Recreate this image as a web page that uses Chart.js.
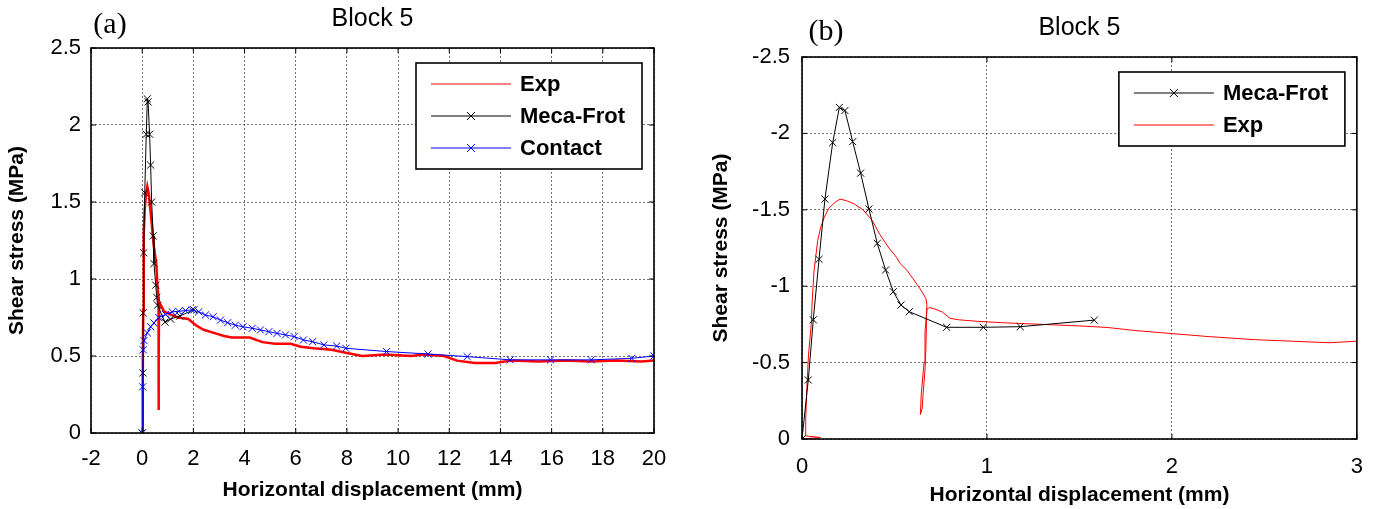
<!DOCTYPE html>
<html>
<head>
<meta charset="utf-8">
<script src="https://cdn.jsdelivr.net/npm/chart.js@4.4.0/dist/chart.umd.min.js"></script>
<style>
  body { margin: 0; background: #fff; width: 1378px; height: 509px; overflow: hidden; position: relative; }
  .panel { position: absolute; top: 0; height: 509px; }
  #boxA { left: 0; width: 690px; }
  #boxB { left: 690px; width: 688px; }
</style>
</head>
<body>
<div class="panel" id="boxA"><canvas id="chartA"></canvas></div>
<div class="panel" id="boxB"><canvas id="chartB"></canvas></div>
<script>
// panel (a) : Block 5, whole test (displacement in mm, shear stress in MPa)
var expAX = [0, 0.02, 0.04, 0.06, 0.1, 0.15, 0.2, 0.26, 0.35, 0.45, 0.55, 0.6, 0.64, 0.64, 0.65, 0.66, 0.7, 0.85, 1.1, 1.4, 1.8, 2.1, 2.4, 2.8, 3.2, 3.5, 4.2, 4.7, 5.2, 5.8, 6.2, 6.7, 7.4, 8.0, 8.6, 9.5, 10.5, 11.0, 11.8, 12.3, 13.0, 13.8, 14.4, 15.5, 16.5, 17.5, 18.5, 19.5, 20];
var expAY = [0, 0.3, 0.8, 1.3, 1.45, 1.55, 1.6, 1.55, 1.4, 1.22, 1.1, 0.95, 0.88, 0.15, 0.5, 0.85, 0.84, 0.79, 0.77, 0.75, 0.74, 0.7, 0.67, 0.65, 0.63, 0.62, 0.62, 0.59, 0.58, 0.58, 0.56, 0.55, 0.54, 0.52, 0.5, 0.51, 0.5, 0.51, 0.5, 0.47, 0.455, 0.455, 0.47, 0.465, 0.47, 0.465, 0.47, 0.465, 0.47];

var mecaAX = [0, 0.03, 0.04, 0.06, 0.1, 0.16, 0.2, 0.23, 0.29, 0.33, 0.37, 0.43, 0.46, 0.53, 0.57, 0.6, 0.89, 1.11, 1.47, 2.02];
var mecaAY = [0, 0.39, 0.78, 1.17, 1.56, 1.94, 2.17, 2.15, 1.94, 1.74, 1.5, 1.28, 1.1, 0.96, 0.88, 0.83, 0.72, 0.74, 0.76, 0.8];

var contactAX = [0, 0.02, 0.04, 0.07, 0.2, 0.33, 0.46, 0.65, 0.91, 1.17, 1.43, 1.69, 1.95, 2.21, 2.47, 2.77, 3.06, 3.34, 3.64, 3.94, 4.3, 4.62, 4.95, 5.27, 5.6, 5.94, 6.3, 6.66, 7.1, 7.6, 7.96, 9.55, 11.17, 12.7, 14.38, 15.96, 17.55, 19.13, 20];
var contactAY = [0, 0.3, 0.54, 0.6, 0.65, 0.69, 0.715, 0.75, 0.77, 0.787, 0.79, 0.795, 0.8, 0.787, 0.766, 0.755, 0.733, 0.716, 0.7, 0.69, 0.68, 0.669, 0.658, 0.647, 0.637, 0.626, 0.604, 0.593, 0.572, 0.565, 0.55, 0.529, 0.513, 0.496, 0.475, 0.475, 0.475, 0.485, 0.5];

// panel (b) : first 3 mm, stress counted negative
var mecaBX = [0, 0.034, 0.061, 0.092, 0.124, 0.166, 0.202, 0.232, 0.274, 0.317, 0.362, 0.407, 0.452, 0.494, 0.535, 0.58, 0.782, 0.98, 1.18, 1.58];
var mecaBY = [0, -0.386, -0.78, -1.176, -1.57, -1.94, -2.17, -2.15, -1.946, -1.74, -1.505, -1.28, -1.106, -0.964, -0.877, -0.833, -0.731, -0.731, -0.735, -0.778];

var expBX = [0, 0.1, 0.02, 0.02, 0.025, 0.035, 0.05, 0.055, 0.065, 0.075, 0.085, 0.1, 0.12, 0.145, 0.18, 0.205, 0.24, 0.28, 0.33, 0.38, 0.42, 0.47, 0.51, 0.53, 0.57, 0.6, 0.64, 0.67, 0.675, 0.67, 0.665, 0.655, 0.65, 0.64, 0.645, 0.66, 0.665, 0.675, 0.69, 0.72, 0.76, 0.8, 0.85, 0.95, 1.1, 1.3, 1.5, 1.65, 1.8, 2.0, 2.2, 2.45, 2.65, 2.85, 3.0];
var expBY = [0, -0.01, -0.02, -0.12, -0.3, -0.55, -0.75, -0.9, -1.1, -1.2, -1.3, -1.38, -1.45, -1.51, -1.55, -1.57, -1.56, -1.54, -1.5, -1.43, -1.34, -1.25, -1.19, -1.15, -1.1, -1.05, -0.98, -0.92, -0.88, -0.6, -0.45, -0.3, -0.2, -0.16, -0.3, -0.5, -0.7, -0.85, -0.86, -0.85, -0.83, -0.79, -0.78, -0.77, -0.76, -0.75, -0.74, -0.73, -0.71, -0.69, -0.67, -0.65, -0.64, -0.63, -0.64];

var xTicksA = [-2, 0, 2, 4, 6, 8, 10, 12, 14, 16, 18, 20];
var yTicksA = [0, 0.5, 1, 1.5, 2, 2.5];
var xTicksB = [0, 1, 2, 3];
var yTicksB = [-2.5, -2, -1.5, -1, -0.5, 0];

function pts(xs, ys) {
  return xs.map(function (x, i) { return { x: x, y: ys[i] }; });
}

var tickFont = { family: 'Liberation Sans, Arial', size: 22 };
var titleFont = { family: 'Liberation Sans, Arial', size: 21, weight: 'bold' };

// box, inside tick marks on every side
var frame = {
  id: 'frame',
  afterDatasetsDraw: function (chart) {
    var a = chart.chartArea, ctx = chart.ctx;
    var xs = chart.scales.x, ys = chart.scales.y;
    ctx.save();
    ctx.strokeStyle = '#000';
    ctx.lineWidth = 1;
    ctx.beginPath();
    xs.ticks.forEach(function (t) {
      var p = xs.getPixelForValue(t.value);
      ctx.moveTo(p, a.bottom); ctx.lineTo(p, a.bottom - 5);
      ctx.moveTo(p, a.top); ctx.lineTo(p, a.top + 5);
    });
    ys.ticks.forEach(function (t) {
      var p = ys.getPixelForValue(t.value);
      ctx.moveTo(a.left, p); ctx.lineTo(a.left + 5, p);
      ctx.moveTo(a.right, p); ctx.lineTo(a.right - 5, p);
    });
    ctx.stroke();
    ctx.lineWidth = 1.6;
    ctx.strokeRect(a.left, a.top, a.right - a.left, a.bottom - a.top);
    ctx.restore();
  }
};

// boxed legend in the upper right corner + title and panel letter
var decor = {
  id: 'decor',
  afterDraw: function (chart, args, o) {
    var a = chart.chartArea, ctx = chart.ctx;
    ctx.save();
    ctx.fillStyle = '#000';
    ctx.textBaseline = 'middle';
    ctx.textAlign = 'center';
    ctx.font = '25px "Liberation Sans", Arial';
    ctx.fillText(o.title, (a.left + a.right) / 2, o.titleY);
    ctx.font = '30px "Liberation Serif", "Times New Roman"';
    ctx.fillText(o.letter, o.letterX, o.letterY);

    var w = 226, right = a.right - 12, left = right - w, top = a.top + 15;
    var order = o.order;
    var h = order.length * 32 + 10;
    ctx.fillStyle = '#fff';
    ctx.fillRect(left, top, w, h);
    ctx.strokeStyle = '#000';
    ctx.lineWidth = 1.6;
    ctx.strokeRect(left, top, w, h);
    ctx.textAlign = 'left';
    ctx.font = 'bold 22px "Liberation Sans", Arial';
    order.forEach(function (idx, k) {
      var ds = chart.data.datasets[idx];
      var y = top + 21 + k * 32;
      ctx.strokeStyle = ds.borderColor;
      ctx.lineWidth = 1;
      ctx.beginPath();
      ctx.moveTo(left + 15, y); ctx.lineTo(left + 95, y);
      ctx.stroke();
      if (ds.pointRadius > 0) {
        var cx = left + 55, r = 4;
        ctx.strokeStyle = ds.pointBorderColor || ds.borderColor;
        ctx.beginPath();
        ctx.moveTo(cx - r, y - r); ctx.lineTo(cx + r, y + r);
        ctx.moveTo(cx - r, y + r); ctx.lineTo(cx + r, y - r);
        ctx.stroke();
      }
      ctx.fillStyle = '#000';
      ctx.fillText(ds.label, left + 104, y + 1);
    });
    ctx.restore();
  }
};

function scaleOpts(ticks, width, height, titleText, titlePad, tickPad, reverse) {
  return {
    type: 'linear',
    min: Math.min.apply(null, ticks),
    max: Math.max.apply(null, ticks),
    reverse: !!reverse,
    afterBuildTicks: function (s) { s.ticks = ticks.map(function (v) { return { value: v }; }); },
    afterFit: function (s) { if (width) s.width = width; if (height) s.height = height; },
    grid: { color: 'rgba(0,0,0,0.55)', lineWidth: 1, drawTicks: false },
    border: { display: false, dash: [2, 2] },
    ticks: {
      color: '#000', font: tickFont, padding: tickPad, autoSkip: false, maxRotation: 0,
      callback: function (v) { return String(v); }
    },
    title: { display: true, text: titleText, color: '#000', font: titleFont, padding: titlePad }
  };
}

var crossA = { pointStyle: 'crossRot', pointRadius: 5, pointBorderWidth: 1 };

new Chart(document.getElementById('chartA'), {
  type: 'scatter',
  data: {
    datasets: [
      { label: 'Exp', data: pts(expAX, expAY), showLine: true, borderColor: '#ff0000', borderWidth: 2.5, pointRadius: 0, order: 3 },
      Object.assign({ label: 'Meca-Frot', data: pts(mecaAX, mecaAY), showLine: true, borderColor: '#000000', borderWidth: 1, pointBorderColor: '#000', order: 2 }, crossA),
      Object.assign({ label: 'Contact', data: pts(contactAX, contactAY), showLine: true, borderColor: '#0000ff', borderWidth: 1, pointBorderColor: '#0000ff', order: 1 }, crossA)
    ]
  },
  options: {
    responsive: true,
    maintainAspectRatio: false,
    animation: false,
    events: [],
    layout: { padding: { left: 0, top: 48, right: 36, bottom: 0 } },
    scales: {
      x: scaleOpts(xTicksA, 0, 76, 'Horizontal displacement (mm)', { bottom: 6 }, 13),
      y: scaleOpts(yTicksA, 91, 0, 'Shear stress (MPa)', { top: 5 }, 10)
    },
    plugins: {
      legend: { display: false },
      tooltip: { enabled: false },
      decor: { title: 'Block 5', titleY: 19, letter: '(a)', letterX: 110, letterY: 25, order: [0, 1, 2] }
    }
  },
  plugins: [frame, decor]
});

new Chart(document.getElementById('chartB'), {
  type: 'scatter',
  data: {
    datasets: [
      Object.assign({ label: 'Meca-Frot', data: pts(mecaBX, mecaBY), showLine: true, borderColor: '#000000', borderWidth: 1, pointBorderColor: '#000', order: 1 }, crossA),
      { label: 'Exp', data: pts(expBX, expBY), showLine: true, borderColor: '#ff0000', borderWidth: 1, pointRadius: 0, order: 2 }
    ]
  },
  options: {
    responsive: true,
    maintainAspectRatio: false,
    animation: false,
    events: [],
    layout: { padding: { left: 0, top: 57, right: 21, bottom: 0 } },
    scales: {
      x: scaleOpts(xTicksB, 0, 70, 'Horizontal displacement (mm)', { bottom: 1 }, 15),
      y: scaleOpts(yTicksB, 112, 0, 'Shear stress (MPa)', { top: 19 }, 12, true)
    },
    plugins: {
      legend: { display: false },
      tooltip: { enabled: false },
      decor: { title: 'Block 5', titleY: 28, letter: '(b)', letterX: 136, letterY: 32, order: [0, 1] }
    }
  },
  plugins: [frame, decor]
});
</script>
</body>
</html>
